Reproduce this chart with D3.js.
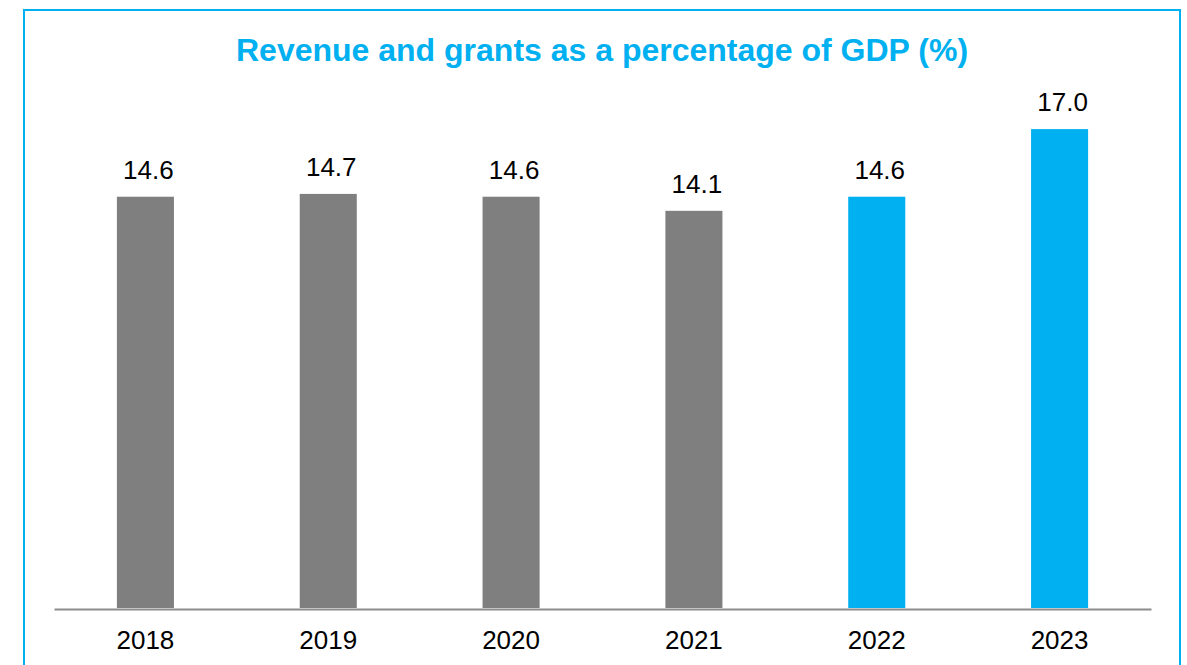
<!DOCTYPE html>
<html>
<head>
<meta charset="utf-8">
<script src="https://cdn.jsdelivr.net/npm/d3@7"></script>
<style>
  html, body { margin: 0; padding: 0; background: #ffffff; }
  svg { display: block; font-family: "Liberation Sans", Arial, sans-serif; }
</style>
</head>
<body>
<svg id="chart" width="1187" height="665"></svg>
<script>
// Revenue and grants as a share of GDP, by year
const years = ["2018", "2019", "2020", "2021", "2022", "2023"];
const values = [14.6, 14.7, 14.6, 14.1, 14.6, 17.0];
const barColors = ["#7f7f7f", "#7f7f7f", "#7f7f7f", "#7f7f7f", "#00b0f0", "#00b0f0"];
const chartTitle = "Revenue and grants as a percentage of GDP (%)";

const svg = d3.select("#chart");
const accent = "#00b0f0";

// Outer frame
svg.append("rect")
  .attr("x", 24).attr("y", 10)
  .attr("width", 1156).attr("height", 680)
  .attr("fill", "none")
  .attr("stroke", accent)
  .attr("stroke-width", 2);

// Title
svg.append("text")
  .attr("x", 602).attr("y", 61)
  .attr("text-anchor", "middle")
  .attr("fill", accent)
  .attr("font-weight", "bold")
  .attr("font-size", 32)
  .text(chartTitle);

const plot = { left: 54, right: 1151, base: 608 };

const x = d3.scaleBand()
  .domain(years)
  .range([plot.left, plot.right])
  .paddingInner(0.688)
  .paddingOuter(0.344);

const y = d3.scaleLinear()
  .domain([0, 20])
  .range([plot.base, plot.base - 563.4]);

// Bars
svg.append("g").selectAll("rect")
  .data(years)
  .join("rect")
  .attr("x", d => x(d))
  .attr("width", x.bandwidth())
  .attr("y", (d, i) => y(values[i]))
  .attr("height", (d, i) => y(0) - y(values[i]))
  .attr("fill", (d, i) => barColors[i]);

// Value labels
svg.append("g").selectAll("text")
  .data(years)
  .join("text")
  .attr("x", d => x(d) + x.bandwidth() / 2 + 3)
  .attr("y", (d, i) => y(values[i]) - 18)
  .attr("text-anchor", "middle")
  .attr("font-size", 26)
  .attr("fill", "#000")
  .text((d, i) => values[i].toFixed(1));

// Category axis
const axis = svg.append("g")
  .attr("transform", `translate(0,${plot.base + 1})`)
  .call(d3.axisBottom(x).tickSize(0).tickPadding(0).tickSizeOuter(0));
axis.select(".domain")
  .attr("stroke", "#8c8c8c")
  .attr("stroke-width", 2);
axis.selectAll("text")
  .attr("font-size", 26)
  .attr("font-family", "Liberation Sans, Arial, sans-serif")
  .attr("fill", "#000")
  .attr("dy", null)
  .attr("y", 40);
</script>
</body>
</html>
